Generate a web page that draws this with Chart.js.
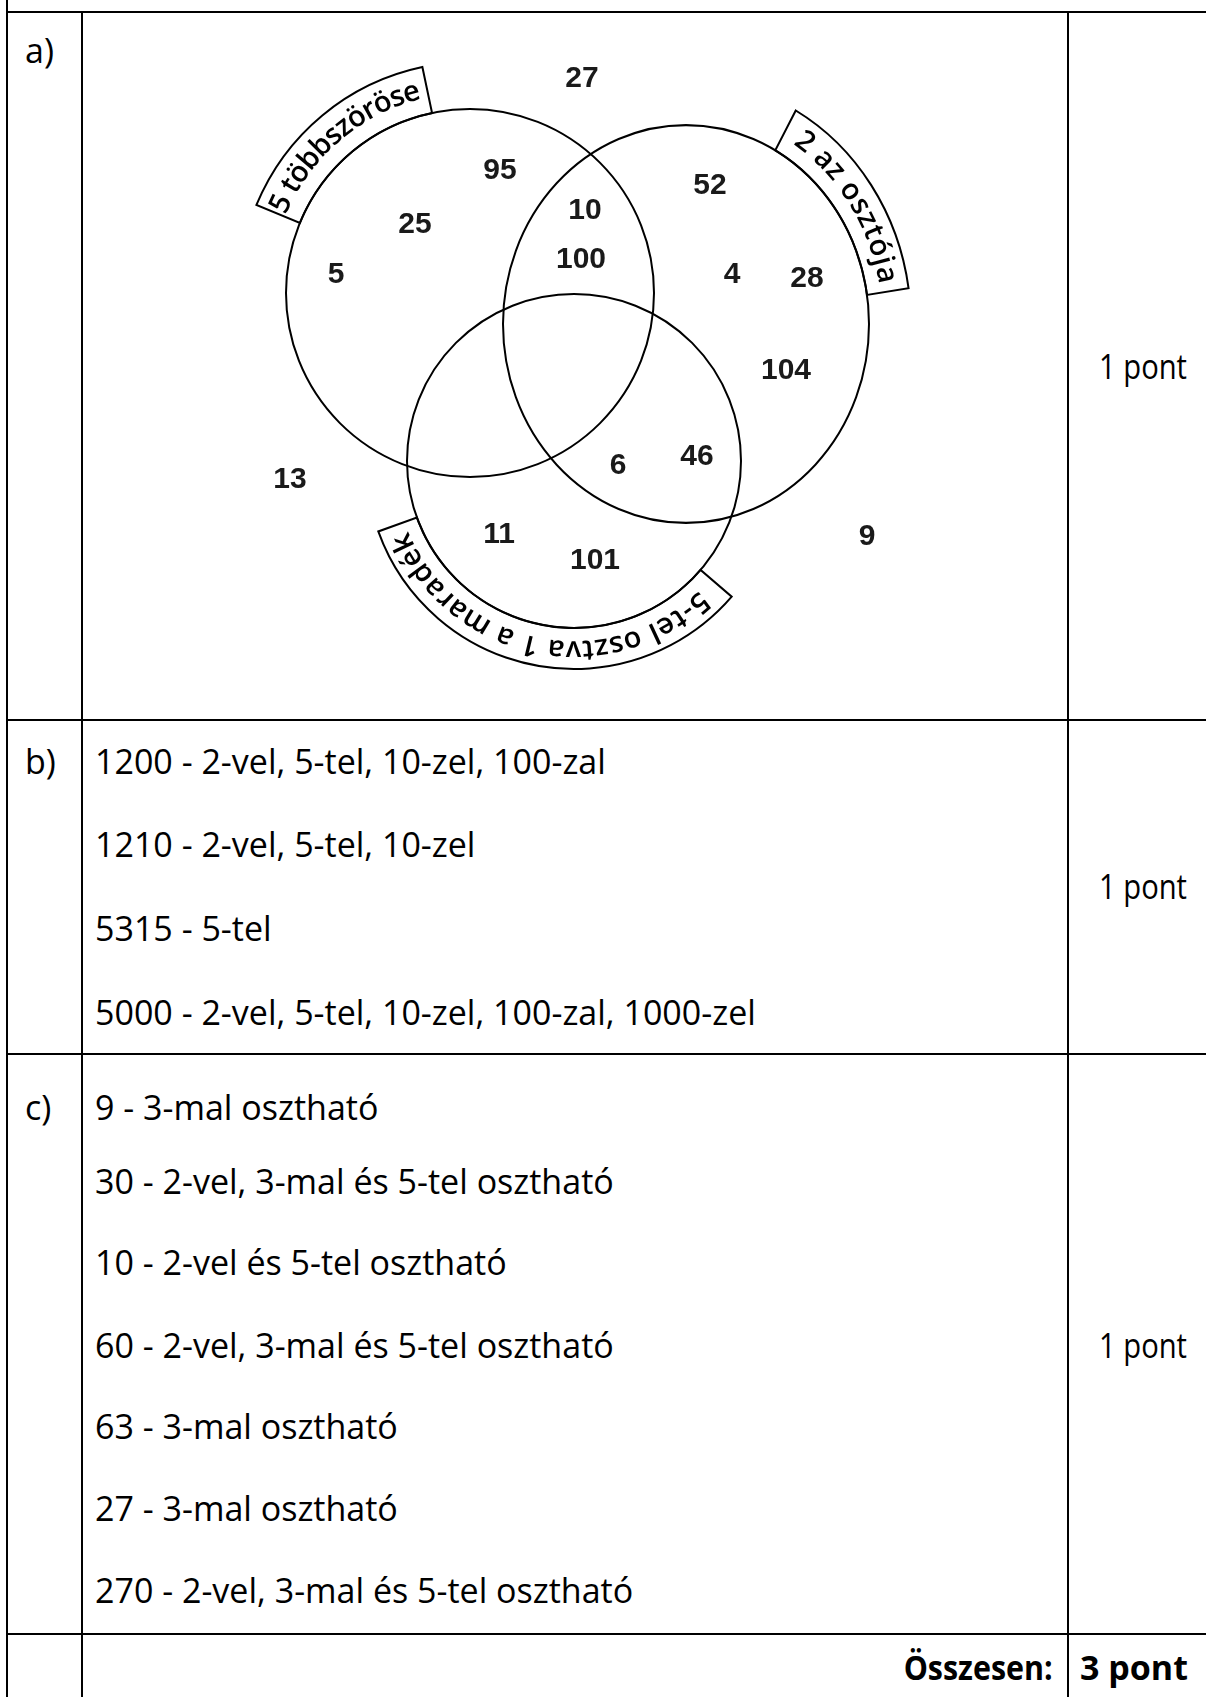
<!DOCTYPE html>
<html><head><meta charset="utf-8">
<script src="https://cdn.jsdelivr.net/npm/chart.js@4/dist/chart.umd.min.js"></script>
<style>
html,body{margin:0;padding:0;background:#fff;}
body{width:1206px;height:1697px;position:relative;overflow:hidden;font-family:"Open Sans",sans-serif;color:#000;}
.hl{position:absolute;height:2px;background:#000;}
.vl{position:absolute;width:2px;background:#000;}
.t{position:absolute;white-space:nowrap;line-height:1;transform:translateY(-50%);}
#venn{position:absolute;left:84px;top:14px;}
</style></head><body>
<canvas id="venn" width="982" height="705"></canvas>
<script>
// ---- Venn data ----
const setNames = ['5 többszöröse', '2 az osztója', '5-tel osztva 1 a maradék'];
const setCenterX = [470, 686, 574];
const setCenterY = [293, 324, 461];
const setRadius = [184, 183, 167];
const setStretchY = [1, 1.087, 1];
const labelOuterRadius = [231, 225, 208];
const labelFromDeg = [202.4, -60.8, 40.7];
const labelToDeg = [258.1, -8.4, 160.2];
const textFromDeg = [203, -57, 46];
const textToDeg = [256, -10.5, 157];
const regionValues = ['27','95','25','5','10','100','52','4','28','104','6','46','13','11','101','9'];
const regionX = [582,500,415,336,585,581,710,732,807,786,618,697,290,499,595,867];
const regionY = [79,171,225,275,211,260,186,275,279,371,466,457,480,535,561,537];

// ---- table data ----
const rowLabels = ['a)', 'b)', 'c)'];
const rowPoints = ['1 pont', '1 pont', '1 pont'];
const rowBLines = ['1200 - 2-vel, 5-tel, 10-zel, 100-zal', '1210 - 2-vel, 5-tel, 10-zel', '5315 - 5-tel', '5000 - 2-vel, 5-tel, 10-zel, 100-zal, 1000-zel'];
const rowCLines = ['9 - 3-mal osztható', '30 - 2-vel, 3-mal és 5-tel osztható', '10 - 2-vel és 5-tel osztható', '60 - 2-vel, 3-mal és 5-tel osztható', '63 - 3-mal osztható', '27 - 3-mal osztható', '270 - 2-vel, 3-mal és 5-tel osztható'];
const totalLabel = 'Összesen:';
const totalPoints = '3 pont';

// ---- table layout ----
function line(cls, l, t, w, h) {
  const d = document.createElement('div'); d.className = cls;
  d.style.left = l + 'px'; d.style.top = t + 'px';
  if (w != null) d.style.width = w + 'px';
  if (h != null) d.style.height = h + 'px';
  document.body.appendChild(d);
}
[12, 720, 1054, 1634].forEach(y => line('hl', 6, y - 1, 1200, null));
line('vl', 6, 0, null, 1697);
line('vl', 81, 11, null, 1686);
line('vl', 1067, 11, null, 1686);

const mc = document.createElement('canvas').getContext('2d');
mc.font = '100px "Open Sans"';
const fs = 100 * 511 / mc.measureText(rowBLines[0]).width;

function txt(s, x, y, opts) {
  opts = opts || {};
  const d = document.createElement('div'); d.className = 't'; d.textContent = s;
  d.style.fontSize = fs.toFixed(2) + 'px';
  d.style.top = y + 'px';
  if (opts.right != null) d.style.right = opts.right + 'px'; else d.style.left = x + 'px';
  if (opts.bold) d.style.fontWeight = '700';
  document.body.appendChild(d);
  if (opts.fit) {
    const w = d.getBoundingClientRect().width;
    d.style.transformOrigin = opts.right != null ? 'right center' : 'left center';
    d.style.transform = 'translateY(-50%) scaleX(' + (opts.fit / w).toFixed(4) + ')';
  }
}
const labelY = [50, 761, 1107];
rowLabels.forEach((s, i) => txt(s, 25, labelY[i]));
const pointY = [366, 886, 1345];
rowPoints.forEach((s, i) => txt(s, 1099, pointY[i], {fit: 88}));
const bY = [761, 844, 928, 1012];
rowBLines.forEach((s, i) => txt(s, 95, bY[i]));
const cY = [1107, 1181, 1262, 1345, 1426, 1508, 1590];
rowCLines.forEach((s, i) => txt(s, 95, cY[i]));
txt(totalLabel, 0, 1667, {right: 153, bold: true, fit: 149});
txt(totalPoints, 1080, 1667, {bold: true});

// ---- Venn chart ----
const D = Math.PI / 180;
function arcText(ctx, text, cx, cy, R, k, a0, a1, font) {
  ctx.font = font;
  const chars = Array.from(text);
  const widths = chars.map(c => ctx.measureText(c).width);
  const W = widths.reduce((a, b) => a + b, 0);
  const L = (a1 - a0) * R;
  const gap = chars.length > 1 ? (L - W) / (chars.length - 1) : 0;
  let s = 0;
  ctx.textAlign = 'center'; ctx.textBaseline = 'middle'; ctx.fillStyle = '#000';
  chars.forEach((c, i) => {
    const phi = a0 + (s + widths[i] / 2) / R;
    const x = cx + R * Math.cos(phi), y = cy + k * R * Math.sin(phi);
    const rot = Math.atan2(k * Math.cos(phi), -Math.sin(phi));
    ctx.save(); ctx.translate(x, y); ctx.rotate(rot); ctx.fillText(c, 0, 0); ctx.restore();
    s += widths[i] + gap;
  });
}

const vennPlugin = {
  id: 'vennDecor',
  beforeDatasetsDraw(chart) {
    const ctx = chart.ctx, xs = chart.scales.x, ys = chart.scales.y;
    setNames.forEach((name, i) => {
      const cx = xs.getPixelForValue(setCenterX[i]), cy = ys.getPixelForValue(setCenterY[i]);
      const rIn = xs.getPixelForValue(setCenterX[i] + setRadius[i]) - cx;
      const rOut = xs.getPixelForValue(setCenterX[i] + labelOuterRadius[i]) - cx;
      const k = setStretchY[i];
      const a0 = labelFromDeg[i] * D, a1 = labelToDeg[i] * D;
      ctx.save();
      ctx.beginPath();
      ctx.ellipse(cx, cy, rOut, rOut * k, 0, a0, a1, false);
      ctx.ellipse(cx, cy, rIn, rIn * k, 0, a1, a0, true);
      ctx.closePath();
      ctx.fillStyle = '#fff'; ctx.fill();
      ctx.lineWidth = 2; ctx.strokeStyle = '#000'; ctx.lineJoin = 'miter'; ctx.stroke();
      arcText(ctx, name, cx, cy, (rIn + rOut) / 2 + 1, k, textFromDeg[i] * D, textToDeg[i] * D, '600 29px "Open Sans"');
      ctx.restore();
    });
  },
  beforeDatasetDraw(chart, args) {
    const i = args.index;
    if (i < setNames.length && setStretchY[i] !== 1) {
      const el = args.meta.data[0], ctx = chart.ctx;
      ctx.save();
      ctx.translate(el.x, el.y); ctx.scale(1, setStretchY[i]); ctx.translate(-el.x, -el.y);
    }
  },
  afterDatasetDraw(chart, args) {
    const i = args.index;
    if (i < setNames.length && setStretchY[i] !== 1) chart.ctx.restore();
  },
  afterDatasetsDraw(chart) {
    const ctx = chart.ctx;
    const meta = chart.getDatasetMeta(setNames.length);
    ctx.save();
    ctx.font = 'bold 30px "Liberation Sans", Arial, sans-serif';
    ctx.fillStyle = '#1a1a1a'; ctx.textAlign = 'center'; ctx.textBaseline = 'middle';
    meta.data.forEach((el, j) => ctx.fillText(regionValues[j], el.x, el.y));
    ctx.restore();
  }
};

const datasets = setNames.map((name, i) => ({
  label: name,
  data: [{x: setCenterX[i], y: setCenterY[i], r: setRadius[i]}],
  backgroundColor: 'rgba(0,0,0,0)', borderColor: '#000', borderWidth: 2,
  hoverBorderWidth: 2, clip: false
}));
datasets.push({
  label: 'elemek',
  data: regionValues.map((v, j) => ({x: regionX[j], y: regionY[j], r: 0})),
  backgroundColor: 'rgba(0,0,0,0)', borderColor: 'rgba(0,0,0,0)', borderWidth: 0, clip: false
});

new Chart(document.getElementById('venn'), {
  type: 'bubble',
  data: {datasets},
  options: {
    responsive: false, animation: false, events: [], devicePixelRatio: 1,
    layout: {padding: 0, autoPadding: false},
    plugins: {legend: {display: false}, tooltip: {enabled: false}, colors: {enabled: false}},
    scales: {
      x: {type: 'linear', min: 84, max: 1066, display: false, offset: false, grace: 0},
      y: {type: 'linear', min: 14, max: 719, reverse: true, display: false, offset: false, grace: 0}
    }
  },
  plugins: [vennPlugin]
});
</script></body></html>
